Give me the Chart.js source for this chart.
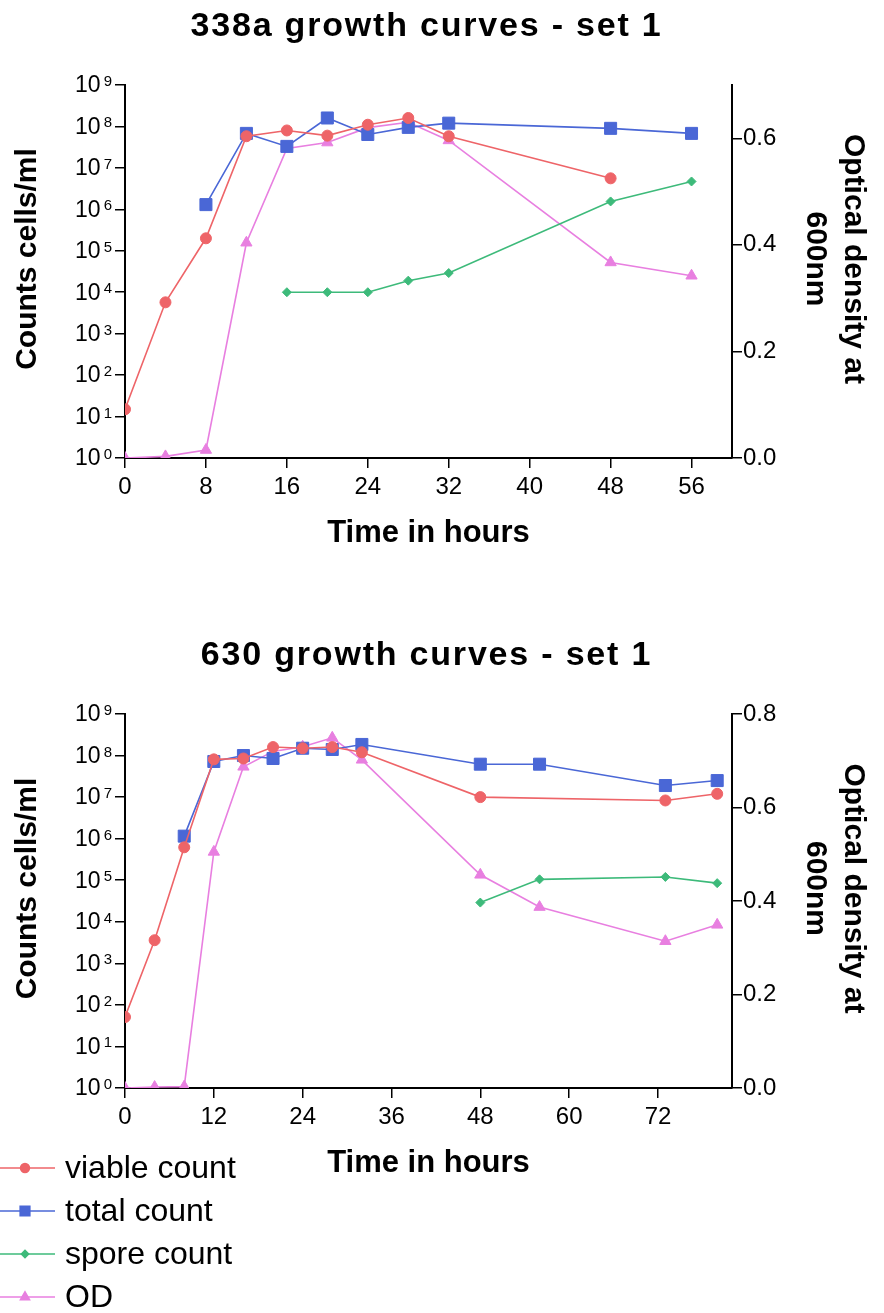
<!DOCTYPE html>
<html>
<head>
<meta charset="utf-8">
<script src="https://cdn.jsdelivr.net/npm/chart.js"></script>
<style>
  html, body { margin: 0; padding: 0; background: #ffffff; }
  #wrap { position: relative; width: 884px; height: 1313px; }
  canvas { position: absolute; left: 0; }
</style>
</head>
<body>
<div id="wrap">
  <canvas id="c338" width="884" height="600" style="top:0px"></canvas>
  <canvas id="c630" width="884" height="713" style="top:600px"></canvas>
</div>
<script>
// ---- Strain 338a, set 1 ----
const hours338   = [0, 4, 8, 12, 16, 20, 24, 28, 32, 48, 56];
const viable338  = [15, 5.7e3, 2.0e5, 5.8e7, 8.0e7, 6.0e7, 1.1e8, 1.6e8, 5.8e7, 5.6e6, null];
const total338   = [null, null, 1.3e6, 6.8e7, 3.3e7, 1.6e8, 6.4e7, 9.5e7, 1.2e8, 9.0e7, 6.8e7];
const spore338   = [null, null, null, null, 1.0e4, 1.0e4, 1.0e4, 1.9e4, 2.9e4, 1.55e6, 4.7e6];
const od338      = [0, 0.003, 0.015, 0.404, 0.581, 0.592, 0.62, 0.63, 0.596, 0.367, 0.342];
const hourTicks338 = [0, 8, 16, 24, 32, 40, 48, 56];
const odTicks338   = [0, 0.2, 0.4, 0.6];

// ---- Strain 630, set 1 ----
const hours630   = [0, 4, 8, 12, 16, 20, 24, 28, 32, 48, 56, 73, 80];
const viable630  = [51, 3.6e3, 6.2e5, 8.1e7, 8.5e7, 1.6e8, 1.5e8, 1.6e8, 1.2e8, 1.0e7, null, 8.3e6, 1.2e7];
const total630   = [null, null, 1.15e6, 7.2e7, 1.0e8, 8.5e7, 1.5e8, 1.4e8, 1.85e8, 6.2e7, 6.2e7, 1.9e7, 2.5e7];
const spore630   = [null, null, null, null, null, null, null, null, null, 2.9e4, 1.05e5, 1.2e5, 8.5e4];
const od630      = [0, 0.002, 0.003, 0.505, 0.687, 0.72, 0.73, 0.749, 0.702, 0.456, 0.387, 0.314, 0.349];
const hourTicks630 = [0, 12, 24, 36, 48, 60, 72];
const odTicks630   = [0, 0.2, 0.4, 0.6, 0.8];

// ---- shared ----
const countDecades = [0, 1, 2, 3, 4, 5, 6, 7, 8, 9];
const seriesNames  = ['viable count', 'total count', 'spore count', 'OD'];
const seriesColors = ['#ee6468', '#4a67d6', '#3dba7a', '#e87fe0'];
const seriesShapes = ['circle', 'rect', 'rectRot', 'triangle'];
const seriesRadius = [5.5, 8.5, 4.5, 6.5];

Chart.defaults.font.family = '"Liberation Sans", Arial, Helvetica, sans-serif';
Chart.defaults.color = '#000';

function toPoints(hours, values) {
  const out = [];
  hours.forEach((h, i) => { if (values[i] !== null) out.push({ x: h, y: values[i] }); });
  return out;
}

function makeDatasets(hours, viable, total, spore, od) {
  const series = [viable, total, spore, od];
  return series.map((vals, i) => ({
    label: seriesNames[i],
    data: toPoints(hours, vals),
    yAxisID: i === 3 ? 'od' : 'counts',
    borderColor: seriesColors[i],
    backgroundColor: seriesColors[i],
    borderWidth: 1.6,
    pointStyle: seriesShapes[i],
    pointRadius: seriesRadius[i],
    pointBorderWidth: 1,
    pointBackgroundColor: seriesColors[i],
    pointBorderColor: seriesColors[i],
    tension: 0,
    fill: false
  }));
}

// Bold heading above the plot
const headingPlugin = {
  id: 'heading',
  afterDraw(chart, args, opts) {
    const { ctx, chartArea } = chart;
    ctx.save();
    ctx.font = 'bold 34px "Liberation Sans", Arial, sans-serif';
    if ('letterSpacing' in ctx) ctx.letterSpacing = '1.8px';
    ctx.fillStyle = '#000';
    ctx.textAlign = 'center';
    ctx.textBaseline = 'alphabetic';
    ctx.fillText(opts.text, (chartArea.left + chartArea.right) / 2 - 2, chartArea.top - 49);
    ctx.restore();
  }
};

// Power-of-ten labels (10 with a raised exponent) on the count axis
const decadeLabelPlugin = {
  id: 'decadeLabels',
  afterDraw(chart) {
    const scale = chart.scales.counts;
    const ctx = chart.ctx;
    ctx.save();
    ctx.fillStyle = '#000';
    scale.ticks.forEach(t => {
      const y = scale.getPixelForValue(t.value);
      const exp = String(Math.round(Math.log10(t.value)));
      const right = scale.right - 13;
      ctx.font = '15px "Liberation Sans", Arial, sans-serif';
      ctx.textAlign = 'right';
      ctx.textBaseline = 'alphabetic';
      const expW = ctx.measureText(exp).width;
      ctx.fillText(exp, right, y + 1);
      ctx.font = '23px "Liberation Sans", Arial, sans-serif';
      ctx.textBaseline = 'middle';
      ctx.fillText('10', right - expW - 3, y + 1);
    });
    ctx.restore();
  }
};

// Series key stacked at the lower left
const seriesKeyPlugin = {
  id: 'seriesKey',
  afterDraw(chart, args, opts) {
    const ctx = chart.ctx;
    ctx.save();
    chart.data.datasets.forEach((ds, i) => {
      const y = opts.top + i * opts.rowGap;
      ctx.strokeStyle = ds.borderColor;
      ctx.fillStyle = ds.backgroundColor;
      ctx.lineWidth = 1.6;
      ctx.beginPath();
      ctx.moveTo(0, y);
      ctx.lineTo(55, y);
      ctx.stroke();
      const r = ds.pointRadius * 0.8;
      if (Chart.helpers && Chart.helpers.drawPoint) {
        Chart.helpers.drawPoint(ctx, { pointStyle: ds.pointStyle, radius: r, borderWidth: 1, rotation: 0 }, 25, y);
      } else {
        ctx.beginPath(); ctx.arc(25, y, r, 0, Math.PI * 2); ctx.fill();
      }
      ctx.fillStyle = '#000';
      ctx.font = '32px "Liberation Sans", Arial, sans-serif';
      ctx.textAlign = 'left';
      ctx.textBaseline = 'middle';
      ctx.fillText(ds.label, 65, y + 1);
    });
    ctx.restore();
  }
};

function makeChart(canvasId, cfg) {
  const axisLine = { color: '#000', width: 2 };
  const tickMarks = { display: true, drawOnChartArea: false, tickLength: 10, color: '#000', lineWidth: 1.5 };
  const plugins = [headingPlugin, decadeLabelPlugin];
  if (cfg.withKey) plugins.push(seriesKeyPlugin);
  return new Chart(document.getElementById(canvasId), {
    type: 'line',
    data: { datasets: makeDatasets(cfg.hours, cfg.viable, cfg.total, cfg.spore, cfg.od) },
    options: {
      responsive: false,
      animation: false,
      events: [],
      layout: { padding: { top: cfg.padTop, bottom: cfg.padBottom, left: 0, right: 0 } },
      plugins: {
        legend: { display: false },
        title: { display: false },
        tooltip: { enabled: false },
        heading: { text: cfg.title },
        seriesKey: { top: 568, rowGap: 43 }
      },
      scales: {
        x: {
          type: 'linear',
          position: 'bottom',
          min: 0,
          max: cfg.xMax,
          afterBuildTicks: s => { s.ticks = cfg.hourTicks.map(v => ({ value: v })); },
          afterFit: s => { s.height = 100; },
          ticks: { font: { size: 24 }, color: '#000', padding: 5, autoSkip: false, maxRotation: 0 },
          grid: tickMarks,
          border: axisLine,
          title: { display: true, text: 'Time in hours', font: { size: 31, weight: 'bold' }, color: '#000', padding: { top: 0, bottom: 6 } }
        },
        counts: {
          type: 'logarithmic',
          position: 'left',
          min: 1,
          max: 1e9,
          afterBuildTicks: s => { s.ticks = countDecades.map(e => ({ value: Math.pow(10, e) })); },
          afterFit: s => { s.width = 125; },
          ticks: { display: false, autoSkip: false },
          grid: tickMarks,
          border: axisLine,
          title: { display: true, text: '   Counts cells/ml', font: { size: 30, weight: 'bold' }, color: '#000', padding: { top: 10, bottom: 0 } }
        },
        od: {
          type: 'linear',
          position: 'right',
          min: 0,
          max: cfg.odMax,
          afterBuildTicks: s => { s.ticks = cfg.odTicks.map(v => ({ value: v })); },
          afterFit: s => { s.width = 152; },
          ticks: { font: { size: 24 }, color: '#000', padding: 1, autoSkip: false,
                   callback: v => v.toFixed(1) },
          grid: tickMarks,
          border: axisLine,
          title: { display: true, text: ['Optical density at   ', '600nm   '], font: { size: 30, weight: 'bold', lineHeight: 1.25 }, color: '#000', padding: { top: 12, bottom: 0 } }
        }
      }
    },
    plugins: plugins
  });
}

makeChart('c338', {
  title: '338a growth curves - set 1',
  hours: hours338, viable: viable338, total: total338, spore: spore338, od: od338,
  hourTicks: hourTicks338, odTicks: odTicks338,
  xMax: 60, odMax: 0.7,
  padTop: 85, padBottom: 42, withKey: false
});

makeChart('c630', {
  title: '630 growth curves - set 1',
  hours: hours630, viable: viable630, total: total630, spore: spore630, od: od630,
  hourTicks: hourTicks630, odTicks: odTicks630,
  xMax: 82, odMax: 0.8,
  padTop: 114, padBottom: 125, withKey: true
});
</script>
</body>
</html>
